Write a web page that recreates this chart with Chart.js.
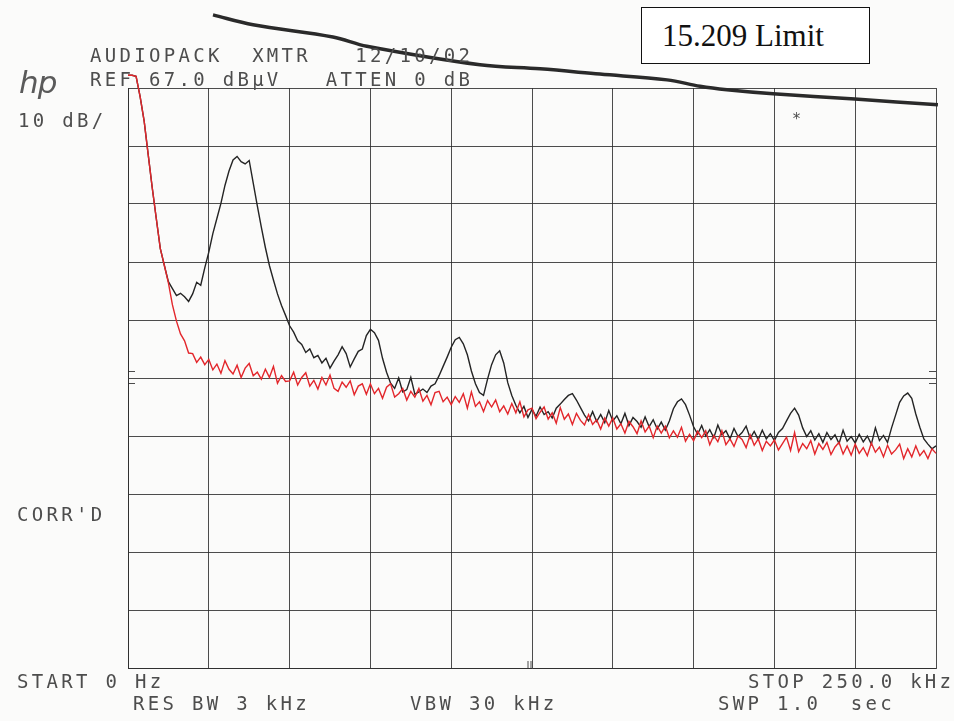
<!DOCTYPE html>
<html>
<head>
<meta charset="utf-8">
<script src="https://cdn.jsdelivr.net/npm/chart.js@4.4.1/dist/chart.umd.min.js"></script>
<style>
  html, body { margin: 0; padding: 0; background: #fbfbfa; }
  #wrap { position: relative; width: 954px; height: 721px; overflow: hidden; }
  #plot { position: absolute; left: 0; top: 0; }
  .txt {
    position: absolute; white-space: pre; color: #4d4d4d;
    font-family: "DejaVu Sans Mono", monospace; font-size: 19px;
    line-height: 19px; letter-spacing: 3.3px;
  }
  #hp {
    position: absolute; left: 19px; top: 64px; color: #5a5a5a;
    font-family: "DejaVu Sans", sans-serif; font-style: italic; font-weight: 200;
    font-size: 31px; letter-spacing: -1px;
  }
  #limitBox {
    position: absolute; left: 641px; top: 7px; width: 207px; height: 55px;
    border: 1.5px solid #111; background: #fff;
    font-family: "Liberation Serif", serif; font-size: 31px; line-height: 55px;
    color: #111; padding-left: 20px;
  }
</style>
</head>
<body>
<div id="wrap">
  <canvas id="plot" width="954" height="721"></canvas>
  <div class="txt" style="left:90px;top:46px">AUDIOPACK  XMTR   12/10/02</div>
  <div class="txt" style="left:90px;top:70px">REF 67.0 dBµV   ATTEN 0 dB</div>
  <div id="hp">hp</div>
  <div class="txt" style="left:18px;top:111px">10 dB/</div>
  <div class="txt" style="left:17px;top:505px">CORR'D</div>
  <div class="txt" style="left:17px;top:672px">START 0 Hz</div>
  <div class="txt" style="left:748px;top:672px">STOP 250.0 kHz</div>
  <div class="txt" style="left:133px;top:694px">RES BW 3 kHz</div>
  <div class="txt" style="left:410px;top:694px">VBW 30 kHz</div>
  <div class="txt" style="left:718px;top:694px">SWP 1.0  sec</div>
  <div class="txt" style="left:792px;top:110px;font-size:15px">*</div>
  <div id="limitBox">15.209 Limit</div>
</div>
<script>
// sweep points, kHz
let freqKHz = [
    0, 1.25, 2.5, 3.75, 5, 6.25, 7.5, 8.75, 10, 11.25, 12.5, 13.75, 15, 16.25, 17.5, 18.75, 20, 21.25, 22.5, 23.75,
    25, 26.25, 27.5, 28.75, 30, 31.25, 32.5, 33.75, 35, 36.25, 37.5, 38.75, 40, 41.25, 42.5, 43.75, 45, 46.25, 47.5, 48.75,
    50, 51.25, 52.5, 53.75, 55, 56.25, 57.5, 58.75, 60, 61.25, 62.5, 63.75, 65, 66.25, 67.5, 68.75, 70, 71.25, 72.5, 73.75,
    75, 76.25, 77.5, 78.75, 80, 81.25, 82.5, 83.75, 85, 86.25, 87.5, 88.75, 90, 91.25, 92.5, 93.75, 95, 96.25, 97.5, 98.75,
    100, 101.25, 102.5, 103.75, 105, 106.25, 107.5, 108.75, 110, 111.25, 112.5, 113.75, 115, 116.25, 117.5, 118.75, 120, 121.25, 122.5, 123.75,
    125, 126.25, 127.5, 128.75, 130, 131.25, 132.5, 133.75, 135, 136.25, 137.5, 138.75, 140, 141.25, 142.5, 143.75, 145, 146.25, 147.5, 148.75,
    150, 151.25, 152.5, 153.75, 155, 156.25, 157.5, 158.75, 160, 161.25, 162.5, 163.75, 165, 166.25, 167.5, 168.75, 170, 171.25, 172.5, 173.75,
    175, 176.25, 177.5, 178.75, 180, 181.25, 182.5, 183.75, 185, 186.25, 187.5, 188.75, 190, 191.25, 192.5, 193.75, 195, 196.25, 197.5, 198.75,
    200, 201.25, 202.5, 203.75, 205, 206.25, 207.5, 208.75, 210, 211.25, 212.5, 213.75, 215, 216.25, 217.5, 218.75, 220, 221.25, 222.5, 223.75,
    225, 226.25, 227.5, 228.75, 230, 231.25, 232.5, 233.75, 235, 236.25, 237.5, 238.75, 240, 241.25, 242.5, 243.75, 245, 246.25, 247.5, 248.75,
    250
];

// transmitter on (black trace), dBuV
let xmtrDb = [
    69.2, 69.2, 69.0, 65.5, 61.3, 55.5, 49.8, 44.5, 39.3, 36.4, 33.6, 32.4, 31.2, 31.6, 31.0, 30.2, 31.5, 33.5, 33.0, 36.0,
    38.7, 41.9, 44.5, 47.1, 50.2, 52.7, 54.6, 55.2, 54.3, 53.9, 54.5, 50.6, 46.7, 43.0, 39.5, 36.4, 33.9, 31.5, 29.5, 27.8,
    26.0, 24.9, 23.4, 22.8, 21.4, 22.0, 20.5, 20.9, 19.6, 20.4, 18.7, 19.9, 21.0, 22.4, 21.2, 18.9, 20.3, 21.6, 22.0, 24.3,
    25.4, 24.8, 23.5, 20.4, 18.0, 16.1, 15.2, 17.0, 14.6, 15.0, 17.1, 14.2, 14.6, 15.1, 14.5, 15.6, 16.0, 17.4, 19.0, 20.6,
    22.3, 23.6, 24.0, 22.9, 21.0, 18.2, 16.0, 14.5, 14.0, 16.8, 19.3, 21.0, 21.7, 19.6, 16.2, 14.0, 12.3, 11.0, 12.1, 10.2,
    11.6, 10.4, 12.0, 10.7, 11.2, 10.1, 11.8, 12.5, 13.3, 14.0, 14.3, 13.2, 11.9, 10.6, 9.6, 11.2, 9.5, 10.7, 9.3, 11.4,
    9.6, 10.5, 9.1, 10.9, 8.8, 10.2, 9.5, 8.5, 10.3, 8.6, 9.8, 8.2, 9.4, 8.0, 9.6, 11.7, 12.9, 13.4, 12.4, 10.6,
    8.6, 7.3, 8.8, 7.0, 8.1, 6.7, 8.9, 7.2, 7.9, 6.5, 8.3, 6.9, 7.6, 8.7, 6.6, 7.8, 6.4, 8.0, 6.5, 7.4,
    6.2, 7.6, 8.3, 9.6, 10.9, 11.8, 10.6, 8.4, 6.9, 7.9, 6.3, 7.4, 5.9, 7.6, 6.4, 7.2, 5.7, 8.0, 6.1, 6.9,
    5.8, 7.3, 6.0, 7.0, 5.6, 8.4, 6.2, 7.1, 5.9, 8.4, 10.6, 12.8, 13.9, 14.4, 13.5, 10.8, 8.5, 6.5, 5.6, 4.8,
    5.3
];

// ambient (red trace), dBuV
let ambientDb = [
    69.2, 69.2, 69.0, 65.5, 61.3, 55.5, 49.8, 44.5, 39.3, 36.4, 33.4, 29.6, 26.8, 24.6, 23.4, 21.3, 21.2, 19.7, 20.6, 19.3,
    20.2, 18.4, 19.4, 17.8, 20.0, 18.5, 17.7, 19.2, 17.1, 18.7, 19.5, 17.4, 18.0, 16.8, 18.5, 17.1, 19.0, 16.1, 17.4, 16.4,
    16.5, 18.0, 15.8, 17.1, 17.9, 15.6, 16.6, 15.1, 17.1, 15.8, 17.5, 15.2, 14.7, 16.3, 15.4, 16.5, 14.1, 15.6, 16.0, 14.2,
    16.0, 14.3, 15.2, 13.5, 15.4, 16.0, 13.7, 14.3, 15.2, 13.2, 14.7, 13.7, 15.2, 13.0, 14.0, 12.4, 14.5, 14.7, 12.9, 13.7,
    12.4, 13.8, 12.8, 14.3, 11.8, 14.6, 12.1, 12.9, 11.2, 13.1, 12.0, 13.2, 11.2, 12.2, 10.8, 12.6, 11.0, 12.9, 10.3, 11.5,
    11.8, 10.0, 11.1, 12.0, 9.9, 11.0, 9.2, 11.9, 9.9, 10.8, 9.0, 10.9, 9.7, 8.9, 10.7, 9.0, 9.8, 8.2, 10.1, 8.7,
    10.1, 8.2, 9.1, 7.5, 9.5, 8.6, 7.4, 9.6, 7.7, 8.7, 6.7, 8.7, 7.5, 8.7, 6.7, 7.9, 6.8, 8.5, 6.1, 7.3,
    6.2, 7.8, 6.7, 7.9, 5.5, 7.1, 6.0, 7.9, 5.5, 6.5, 5.2, 7.0, 6.4, 5.0, 7.2, 5.4, 6.5, 4.5, 6.1, 5.3,
    6.3, 4.6, 5.7, 6.8, 4.5, 7.6, 4.3, 5.7, 4.8, 6.2, 3.9, 5.7, 4.7, 5.9, 3.8, 5.1, 5.9, 3.9, 5.3, 3.7,
    5.6, 4.0, 5.0, 3.6, 5.8, 4.2, 5.1, 3.4, 5.4, 3.9, 4.6, 5.6, 3.1, 4.8, 3.4, 5.3, 3.6, 4.5, 3.1, 4.8,
    4.0
];

// hand drawn 15.209 limit line
let limitFreqKHz = [26.3, 38.7, 63.4, 73.9, 108.9, 127.5, 146.0, 166.8, 177.0, 185.3, 199.6, 224.9, 250.6];
let limitDb = [79.6, 77.9, 75.8, 74.2, 71.0, 70.3, 69.4, 68.4, 67.3, 66.7, 66.0, 65.1, 64.1];

// graticule: 10 dB/div from REF 67 dBuV, 25 kHz/div
let xTicks = [0, 25, 50, 75, 100, 125, 150, 175, 200, 225, 250];
let yTicks = [-33, -23, -13, -3, 7, 17, 27, 37, 47, 57, 67];
let edgeMarkDb = [18.2, 16.1];
let centerMarkKHz = 124;

function pts(xs, ys) {
    return xs.map(function(x, i) { return { x: x, y: ys[i] }; });
}

const gridColor = 'rgba(45, 45, 45, 0.85)';

const marks = {
    id: 'marks',
    afterDraw: function(chart) {
        const c = chart.ctx;
        const a = chart.chartArea;
        const ys = chart.scales.y;
        const xs = chart.scales.x;
        c.save();
        c.strokeStyle = gridColor;
        c.lineWidth = 1;
        edgeMarkDb.forEach(function(v) {
            const py = Math.round(ys.getPixelForValue(v)) + 0.5;
            c.beginPath();
            c.moveTo(a.left, py); c.lineTo(a.left + 7, py);
            c.moveTo(a.right - 7, py); c.lineTo(a.right, py);
            c.stroke();
        });
        const px = Math.round(xs.getPixelForValue(centerMarkKHz)) + 0.5;
        c.beginPath();
        c.moveTo(px - 1.5, a.bottom - 7); c.lineTo(px - 1.5, a.bottom);
        c.moveTo(px + 1.5, a.bottom - 7); c.lineTo(px + 1.5, a.bottom);
        c.stroke();
        c.restore();
    }
};

const ctx = document.getElementById('plot');
const chart = new Chart(ctx, {
    type: 'line',
    data: {
        datasets: [
            {
                label: 'ambient',
                data: pts(freqKHz, ambientDb),
                borderColor: '#e3262b',
                borderWidth: 1.4,
                pointRadius: 0,
                tension: 0,
                clip: false
            },
            {
                label: 'xmtr',
                data: pts(freqKHz, xmtrDb),
                borderColor: '#242424',
                borderWidth: 1.4,
                pointRadius: 0,
                tension: 0,
                clip: false
            },
            {
                label: '15.209 Limit',
                data: pts(limitFreqKHz, limitDb),
                borderColor: '#2a2a2a',
                borderWidth: 3.5,
                pointRadius: 0,
                tension: 0.35,
                clip: false
            }
        ]
    },
    options: {
        responsive: false,
        animation: false,
        layout: { padding: { left: 128, right: 18, top: 88, bottom: 53 } },
        plugins: {
            legend: { display: false },
            tooltip: { enabled: false }
        },
        scales: {
            x: {
                type: 'linear',
                min: 0,
                max: 250,
                afterBuildTicks: function(s) { s.ticks = xTicks.map(function(v) { return { value: v }; }); },
                afterFit: function(s) { s.height = 0; },
                ticks: { display: false },
                grid: { color: gridColor, lineWidth: 1, drawTicks: false },
                border: { color: gridColor, width: 1 }
            },
            y: {
                type: 'linear',
                min: -33,
                max: 67,
                afterBuildTicks: function(s) { s.ticks = yTicks.map(function(v) { return { value: v }; }); },
                afterFit: function(s) { s.width = 0; },
                ticks: { display: false },
                grid: { color: gridColor, lineWidth: 1, drawTicks: false },
                border: { color: gridColor, width: 1 }
            }
        }
    },
    plugins: [marks]
});
</script>
</body>
</html>
